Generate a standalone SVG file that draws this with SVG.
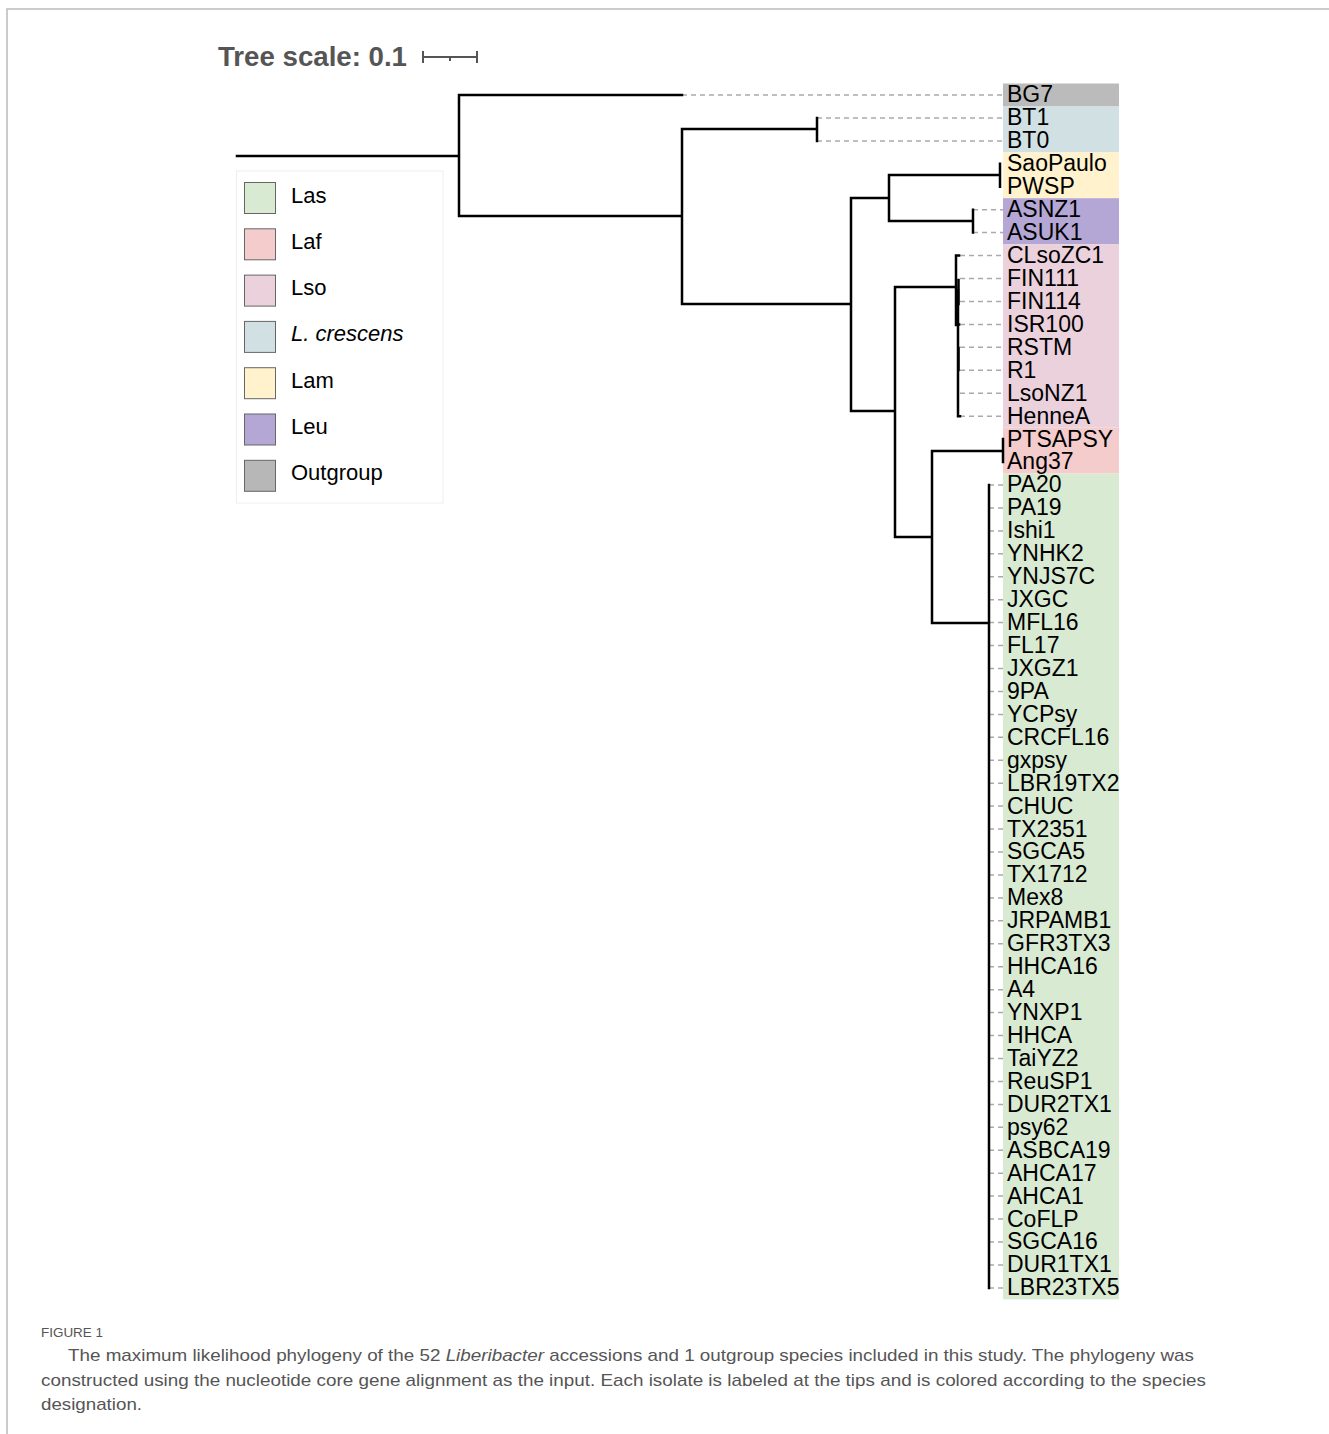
<svg xmlns="http://www.w3.org/2000/svg" width="1329" height="1434" viewBox="0 0 1329 1434">
<style>
.br{fill:none;stroke:#000;stroke-width:2.5;stroke-linecap:square}
.ld{fill:none;stroke:#aaa;stroke-width:1.5;stroke-dasharray:5 4}
.tip{font-family:"Liberation Sans",Arial,sans-serif;font-size:23px;fill:#000}
.lg{font-family:"Liberation Sans",Arial,sans-serif;font-size:22px;fill:#000}
.sw{stroke:#666;stroke-width:1}
.cap{font-family:"Liberation Sans",Arial,sans-serif;font-size:17px;fill:#555}
</style>
<rect width="1329" height="1434" fill="#fff"/>
<path d="M7,1434 V9 H1329" fill="none" stroke="#bbb" stroke-width="1.5"/>

<g id="scale">
<text x="218" y="66" font-family="Liberation Sans,Arial,sans-serif" font-weight="bold" font-size="28" fill="#555" textLength="189" lengthAdjust="spacingAndGlyphs">Tree scale: 0.1</text>
<path d="M423,51 V63 M477,51 V63 M423,57 H477 M450,57 V61" stroke="#555" stroke-width="2" fill="none"/>
</g>

<g id="bands">
<rect x="1003" y="83.5" width="116" height="23" fill="#bbbbbb"/>
<rect x="1003" y="106.5" width="116" height="45.9" fill="#d0e0e3"/>
<rect x="1003" y="152.4" width="116" height="45.8" fill="#fff2cc"/>
<rect x="1003" y="198.2" width="116" height="45.9" fill="#b4a7d6"/>
<rect x="1003" y="244.1" width="116" height="183.5" fill="#ead1dc"/>
<rect x="1003" y="427.6" width="116" height="45.9" fill="#f4cccc"/>
<rect x="1003" y="473.5" width="116" height="825.9" fill="#d9ead3"/>
</g>

<g id="connectors">
<path class="ld" d="M682,95 H1003 M817,117.9 H1003 M817,140.9 H1003 M973,209.7 H1003 M973,232.6 H1003"/>
<path class="ld" d="M960,255.6 H1003 M960,278.5 H1003 M960,301.5 H1003 M960,324.4 H1003 M960,347.3 H1003 M960,370.3 H1003 M960,393.2 H1003 M960,416.2 H1003"/>
<path class="ld" d="M989,485 H1003 M989,507.9 H1003 M989,530.9 H1003 M989,553.8 H1003 M989,576.7 H1003 M989,599.7 H1003 M989,622.6 H1003 M989,645.6 H1003 M989,668.5 H1003 M989,691.4 H1003 M989,714.4 H1003 M989,737.3 H1003 M989,760.3 H1003 M989,783.2 H1003 M989,806.1 H1003 M989,829.1 H1003 M989,852 H1003 M989,875 H1003 M989,897.9 H1003 M989,920.8 H1003 M989,943.8 H1003 M989,966.7 H1003 M989,989.7 H1003 M989,1012.6 H1003 M989,1035.5 H1003 M989,1058.5 H1003 M989,1081.4 H1003 M989,1104.4 H1003 M989,1127.3 H1003 M989,1150.2 H1003 M989,1173.2 H1003 M989,1196.1 H1003 M989,1219.1 H1003 M989,1242 H1003 M989,1264.9 H1003 M989,1287.9 H1003"/>
<path class="br" d="M237,156 H459 M459,95 V216 M459,95 H682 M459,216 H682 M682,129 V304 M682,129 H817 M817,117.9 V140.9 M682,304 H851 M851,198 V411 M851,198 H889 M889,175 V221 M889,175 H1000 M1000,163.8 V186.8 M889,221 H973 M973,209.7 V232.6 M851,411 H895 M895,287 V537 M895,287 H956 M895,537 H932 M932,451 V623 M932,451 H1003 M1003,439.1 V462 M932,623 H989 M989,485 V1287.9"/>
<path class="br" stroke-width="2.2" d="M956,255.6 V325 M956,255.6 H959 M956,324.4 H959 M958,290 V416.2 M958,416.2 H960"/>
<path class="br" stroke-width="4" d="M958.5,280 V304 M958.5,348 V370"/>
</g>

<g id="tips" class="tip">
<text x="1007" y="102.4">BG7</text>
<text x="1007" y="125.3">BT1</text>
<text x="1007" y="148.3">BT0</text>
<text x="1007" y="171.2">SaoPaulo</text>
<text x="1007" y="194.2">PWSP</text>
<text x="1007" y="217.1">ASNZ1</text>
<text x="1007" y="240">ASUK1</text>
<text x="1007" y="263">CLsoZC1</text>
<text x="1007" y="285.9">FIN111</text>
<text x="1007" y="308.9">FIN114</text>
<text x="1007" y="331.8">ISR100</text>
<text x="1007" y="354.7">RSTM</text>
<text x="1007" y="377.7">R1</text>
<text x="1007" y="400.6">LsoNZ1</text>
<text x="1007" y="423.6">HenneA</text>
<text x="1007" y="446.5">PTSAPSY</text>
<text x="1007" y="469.4">Ang37</text>
<text x="1007" y="492.4">PA20</text>
<text x="1007" y="515.3">PA19</text>
<text x="1007" y="538.3">Ishi1</text>
<text x="1007" y="561.2">YNHK2</text>
<text x="1007" y="584.1">YNJS7C</text>
<text x="1007" y="607.1">JXGC</text>
<text x="1007" y="630">MFL16</text>
<text x="1007" y="653">FL17</text>
<text x="1007" y="675.9">JXGZ1</text>
<text x="1007" y="698.8">9PA</text>
<text x="1007" y="721.8">YCPsy</text>
<text x="1007" y="744.7">CRCFL16</text>
<text x="1007" y="767.7">gxpsy</text>
<text x="1007" y="790.6">LBR19TX2</text>
<text x="1007" y="813.5">CHUC</text>
<text x="1007" y="836.5">TX2351</text>
<text x="1007" y="859.4">SGCA5</text>
<text x="1007" y="882.4">TX1712</text>
<text x="1007" y="905.3">Mex8</text>
<text x="1007" y="928.2">JRPAMB1</text>
<text x="1007" y="951.2">GFR3TX3</text>
<text x="1007" y="974.1">HHCA16</text>
<text x="1007" y="997.1">A4</text>
<text x="1007" y="1020">YNXP1</text>
<text x="1007" y="1042.9">HHCA</text>
<text x="1007" y="1065.9">TaiYZ2</text>
<text x="1007" y="1088.8">ReuSP1</text>
<text x="1007" y="1111.8">DUR2TX1</text>
<text x="1007" y="1134.7">psy62</text>
<text x="1007" y="1157.6">ASBCA19</text>
<text x="1007" y="1180.6">AHCA17</text>
<text x="1007" y="1203.5">AHCA1</text>
<text x="1007" y="1226.5">CoFLP</text>
<text x="1007" y="1249.4">SGCA16</text>
<text x="1007" y="1272.3">DUR1TX1</text>
<text x="1007" y="1295.3">LBR23TX5</text>
</g>

<g id="legend">
<rect x="236.5" y="171" width="206.5" height="332" fill="#fff" stroke="#eee" stroke-width="1"/>
<rect class="sw" x="244.5" y="182.5" width="31" height="31" fill="#d9ead3"/>
<rect class="sw" x="244.5" y="228.8" width="31" height="31" fill="#f4cccc"/>
<rect class="sw" x="244.5" y="275.1" width="31" height="31" fill="#ead1dc"/>
<rect class="sw" x="244.5" y="321.4" width="31" height="31" fill="#d0e0e3"/>
<rect class="sw" x="244.5" y="367.7" width="31" height="31" fill="#fff2cc"/>
<rect class="sw" x="244.5" y="414" width="31" height="31" fill="#b4a7d6"/>
<rect class="sw" x="244.5" y="460.3" width="31" height="31" fill="#b7b7b7"/>
<text class="lg" x="291" y="202.5">Las</text>
<text class="lg" x="291" y="248.8">Laf</text>
<text class="lg" x="291" y="295.1">Lso</text>
<text class="lg" x="291" y="341.4" font-style="italic">L. crescens</text>
<text class="lg" x="291" y="387.7">Lam</text>
<text class="lg" x="291" y="434">Leu</text>
<text class="lg" x="291" y="480.3">Outgroup</text>
</g>

<g id="caption">
<text x="41" y="1337" font-family="Liberation Sans,Arial,sans-serif" font-size="13" fill="#555" textLength="62" lengthAdjust="spacingAndGlyphs">FIGURE 1</text>
<text class="cap" x="68" y="1361" textLength="1126" lengthAdjust="spacingAndGlyphs">The maximum likelihood phylogeny of the 52 <tspan font-style="italic">Liberibacter</tspan> accessions and 1 outgroup species included in this study. The phylogeny was</text>
<text class="cap" x="41" y="1386" textLength="1165" lengthAdjust="spacingAndGlyphs">constructed using the nucleotide core gene alignment as the input. Each isolate is labeled at the tips and is colored according to the species</text>
<text class="cap" x="41" y="1410" textLength="101" lengthAdjust="spacingAndGlyphs">designation.</text>
</g>
</svg>
